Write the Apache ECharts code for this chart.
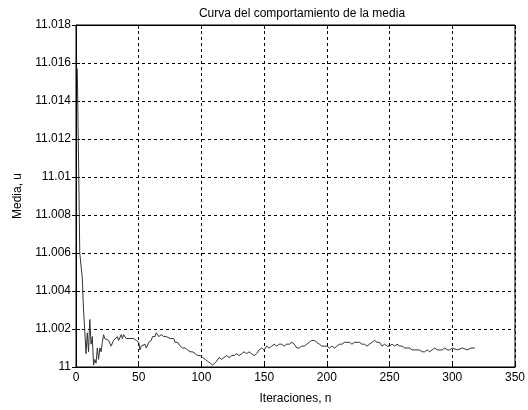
<!DOCTYPE html>
<html>
<head>
<meta charset="utf-8">
<script src="https://cdn.jsdelivr.net/npm/echarts@6/dist/echarts.min.js"></script>
<style>
  html, body { margin: 0; padding: 0; background: #fff; }
  #chart { width: 528px; height: 410px; }
</style>
</head>
<body>
<div id="chart"></div>
<script>
// Running mean of the estimate versus iteration count
const iterations = [
  1, 2, 3, 4, 5, 6, 7, 8, 9, 10, 11, 12, 13, 14, 15, 16, 17, 18, 19, 20,
  21, 22, 23, 24, 26, 28, 30, 31, 33, 34, 36, 37, 38, 40, 41, 43, 44, 46, 48, 50,
  51, 52, 53, 55, 56, 58, 60, 61, 63, 64, 66, 68, 70, 72, 73, 75, 76, 78, 79, 81,
  83, 85, 87, 89, 91, 93, 95, 97, 99, 101, 103, 105, 107, 109, 110, 112, 114, 116, 118, 120,
  122, 124, 126, 128, 130, 132, 134, 136, 138, 140, 142, 144, 146, 148, 150, 152, 154, 156, 158, 160,
  162, 164, 166, 168, 170, 172, 174, 176, 178, 180, 182, 184, 186, 188, 190, 192, 194, 196, 198, 200,
  202, 204, 206, 208, 210, 212, 214, 216, 218, 220, 222, 224, 226, 228, 230, 232, 234, 236, 238, 240,
  242, 244, 246, 248, 250, 252, 254, 256, 258, 260, 262, 264, 266, 268, 270, 272, 274, 276, 278, 280,
  282, 284, 286, 288, 290, 292, 294, 296, 298, 300, 304, 308, 312, 315, 318
];
const meanValues = [
  11.0157, 11.0111, 11.0060, 11.0059, 11.0047, 11.0030, 11.0019, 11.0007, 11.0018, 11.0008,
  11.0025, 11.0012, 11.0016, 11.0001, 11.0004, 11.0002, 11.0010, 11.0004, 11.0010, 11.0008,
  11.0013, 11.0017, 11.0015, 11.0016, 11.0014, 11.0011, 11.0014, 11.0013, 11.0016, 11.0014,
  11.0017, 11.0015, 11.0017, 11.0015, 11.0016, 11.0015, 11.0016, 11.0015, 11.0014, 11.0013,
  11.0009, 11.0011, 11.0010, 11.0012, 11.0010, 11.0013, 11.0014, 11.0016, 11.0016, 11.0018,
  11.0016, 11.0017, 11.0016, 11.0016, 11.0015, 11.0015, 11.0014, 11.0015, 11.0013, 11.0013,
  11.0011, 11.0010, 11.0010, 11.0009, 11.0008, 11.0008, 11.0007, 11.0006, 11.0006, 11.0005,
  11.0004, 11.0003, 11.0002, 11.0001, 11.0001, 11.0003, 11.0005, 11.0004, 11.0005, 11.0006,
  11.0005, 11.0006, 11.0006, 11.0007, 11.0006, 11.0007, 11.0008, 11.0007, 11.0008, 11.0007,
  11.0006, 11.0007, 11.0009, 11.0010, 11.0009, 11.0011, 11.0010, 11.0011, 11.0012, 11.0011,
  11.0012, 11.0012, 11.0011, 11.0012, 11.0012, 11.0013, 11.0012, 11.0010, 11.0010, 11.0011,
  11.0011, 11.0012, 11.0013, 11.0014, 11.0014, 11.0013, 11.0012, 11.0011, 11.0011, 11.0011,
  11.0010, 11.0011, 11.0010, 11.0011, 11.0012, 11.0012, 11.0013, 11.0013, 11.0013, 11.0012,
  11.0013, 11.0013, 11.0013, 11.0012, 11.0012, 11.0011, 11.0012, 11.0013, 11.0014, 11.0013,
  11.0013, 11.0011, 11.0012, 11.0011, 11.0011, 11.0012, 11.0011, 11.0012, 11.0011, 11.0011,
  11.0010, 11.0010, 11.0010, 11.0009, 11.0009, 11.0009, 11.0009, 11.0008, 11.0008, 11.0009,
  11.0008, 11.0009, 11.0010, 11.0009, 11.0009, 11.0009, 11.0010, 11.0009, 11.0009, 11.0010,
  11.0009, 11.0010, 11.0009, 11.0010, 11.0010
];

const xTicks = { min: 0, max: 350, step: 50 };
const yTicks = { min: 11, max: 11.018, step: 0.002 };

const font = 'Liberation Sans, Arial, sans-serif';
const points = iterations.map((n, i) => [n, meanValues[i]]);

const fmtY = v => String(parseFloat(v.toFixed(3)));

const chart = echarts.init(document.getElementById('chart'), null, { renderer: 'canvas' });
chart.setOption({
  backgroundColor: '#fff',
  animation: false,
  title: {
    text: 'Curva del comportamiento de la media',
    left: 297, top: 3, textAlign: 'center',
    textStyle: { fontFamily: font, fontSize: 12, fontWeight: 'normal', color: '#000' }
  },
  grid: {
    left: 76, right: 11, top: 25, bottom: 38.5,
    show: true, borderColor: '#000', borderWidth: 1, backgroundColor: '#fff'
  },
  xAxis: [{
    type: 'value', min: xTicks.min, max: xTicks.max, interval: xTicks.step,
    name: 'Iteraciones, n', nameLocation: 'middle', nameGap: 26,
    nameTextStyle: { fontFamily: font, fontSize: 12, color: '#000' },
    axisLine: { show: true, lineStyle: { color: '#000', width: 1 } },
    axisTick: { show: true, inside: true, length: 4, lineStyle: { color: '#000' } },
    axisLabel: { fontFamily: font, fontSize: 12, color: '#000', margin: 5 },
    splitLine: { show: true, lineStyle: { color: '#000', type: [3, 3], width: 1 } }
  }, {
    type: 'value', position: 'top', min: xTicks.min, max: xTicks.max, interval: xTicks.step,
    axisLine: { show: true, lineStyle: { color: '#000' } },
    axisTick: { show: true, inside: true, length: 4, lineStyle: { color: '#000' } },
    axisLabel: { show: false }, splitLine: { show: false }
  }],
  yAxis: [{
    type: 'value', min: yTicks.min, max: yTicks.max, interval: yTicks.step,
    name: 'Media, u', nameLocation: 'middle', nameGap: 52, nameRotate: 90,
    nameTextStyle: { fontFamily: font, fontSize: 12, color: '#000' },
    axisLine: { show: true, lineStyle: { color: '#000', width: 1 } },
    axisTick: { show: true, inside: true, length: 4, lineStyle: { color: '#000' } },
    axisLabel: { fontFamily: font, fontSize: 12, color: '#000', margin: 5, formatter: fmtY },
    splitLine: { show: true, lineStyle: { color: '#000', type: [3, 3], width: 1 } }
  }, {
    type: 'value', position: 'right', min: yTicks.min, max: yTicks.max, interval: yTicks.step,
    axisLine: { show: true, lineStyle: { color: '#000' } },
    axisTick: { show: true, inside: true, length: 4, lineStyle: { color: '#000' } },
    axisLabel: { show: false }, splitLine: { show: false }
  }],
  series: [{
    type: 'line',
    data: points,
    showSymbol: false,
    lineStyle: { color: '#333', width: 1 },
    clip: true
  }]
});
</script>
</body>
</html>
